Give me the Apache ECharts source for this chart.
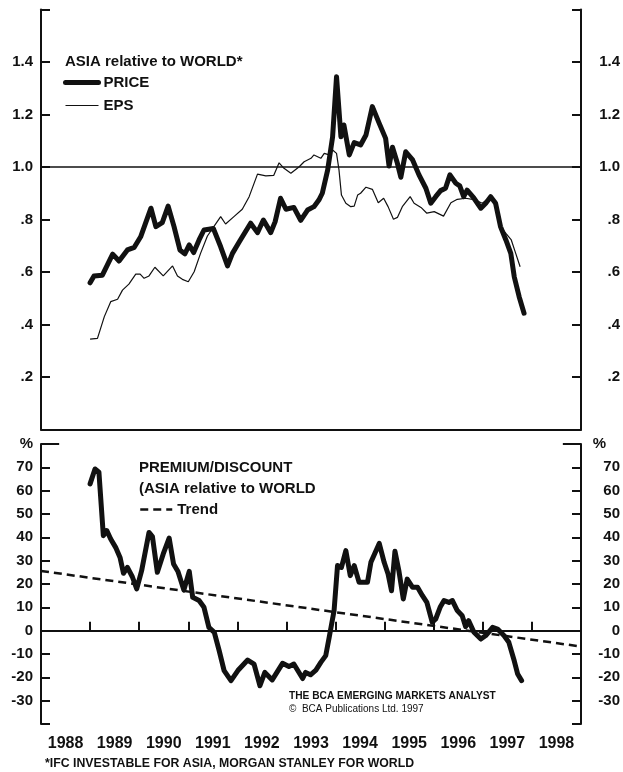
<!DOCTYPE html>
<html>
<head>
<meta charset="utf-8">
<script src="https://cdn.jsdelivr.net/npm/echarts@6/dist/echarts.min.js"></script>
<style>
html,body{margin:0;padding:0;background:#fff;}
#chart{width:623px;height:772px;}
</style>
</head>
<body>
<div id="chart"></div>
<script>
// ---------------- DATA ----------------
const yearLabels = ['1988','1989','1990','1991','1992','1993','1994','1995','1996','1997','1998'];

const topTickValues = [0.2, 0.4, 0.6, 0.8, 1.0, 1.2, 1.4];
const topTickLabels = ['.2', '.4', '.6', '.8', '1.0', '1.2', '1.4'];

const priceDates = [1989.00,1989.08,1989.25,1989.46,1989.59,1989.76,1989.90,1990.03,1990.13,1990.24,1990.34,1990.47,1990.59,1990.71,1990.83,1990.93,1991.02,1991.11,1991.22,1991.32,1991.42,1991.51,1991.66,1991.80,1991.90,1992.04,1992.27,1992.41,1992.53,1992.68,1992.77,1992.88,1992.99,1993.15,1993.29,1993.43,1993.56,1993.66,1993.73,1993.84,1993.94,1994.02,1994.11,1994.17,1994.28,1994.38,1994.51,1994.62,1994.75,1994.89,1995.02,1995.09,1995.16,1995.26,1995.33,1995.43,1995.57,1995.70,1995.84,1995.94,1996.04,1996.14,1996.24,1996.33,1996.45,1996.53,1996.61,1996.68,1996.82,1996.96,1997.06,1997.16,1997.26,1997.36,1997.47,1997.57,1997.64,1997.74,1997.84];
const priceValues = [0.559,0.585,0.588,0.668,0.642,0.684,0.694,0.734,0.786,0.843,0.773,0.788,0.851,0.773,0.684,0.669,0.703,0.674,0.722,0.760,0.763,0.766,0.696,0.623,0.671,0.715,0.786,0.750,0.798,0.750,0.792,0.881,0.839,0.846,0.797,0.836,0.849,0.874,0.900,0.989,1.115,1.344,1.115,1.160,1.046,1.093,1.084,1.122,1.230,1.166,1.109,1.004,1.075,1.014,0.961,1.058,1.027,0.970,0.919,0.862,0.887,0.910,0.919,0.970,0.938,0.928,0.887,0.912,0.881,0.843,0.862,0.887,0.862,0.773,0.722,0.671,0.582,0.506,0.443];

const epsDates = [1989.00,1989.15,1989.29,1989.42,1989.56,1989.66,1989.79,1989.93,1990.02,1990.10,1990.20,1990.32,1990.49,1990.68,1990.78,1990.88,1991.00,1991.12,1991.25,1991.39,1991.51,1991.66,1991.76,1991.93,1992.10,1992.24,1992.41,1992.58,1992.74,1992.85,1992.95,1993.09,1993.26,1993.36,1993.50,1993.56,1993.70,1993.77,1993.87,1993.94,1994.02,1994.07,1994.12,1994.21,1994.31,1994.38,1994.45,1994.51,1994.62,1994.75,1994.87,1994.98,1995.07,1995.18,1995.26,1995.36,1995.52,1995.60,1995.74,1995.86,1996.01,1996.20,1996.35,1996.48,1996.65,1996.82,1996.99,1997.16,1997.26,1997.36,1997.47,1997.58,1997.67,1997.76];
const epsValues = [0.344,0.347,0.430,0.487,0.496,0.531,0.554,0.592,0.592,0.576,0.585,0.618,0.585,0.623,0.585,0.572,0.563,0.601,0.671,0.737,0.770,0.811,0.783,0.811,0.839,0.887,0.973,0.966,0.968,1.016,0.995,0.976,1.001,1.020,1.033,1.046,1.033,1.052,1.046,1.065,1.052,0.989,0.893,0.862,0.849,0.851,0.893,0.900,0.923,0.915,0.864,0.881,0.849,0.801,0.808,0.849,0.887,0.862,0.846,0.824,0.830,0.813,0.864,0.877,0.881,0.876,0.862,0.887,0.849,0.773,0.747,0.722,0.671,0.620];

const premDates = [1989.00,1989.10,1989.18,1989.27,1989.34,1989.42,1989.52,1989.61,1989.68,1989.76,1989.86,1989.95,1990.05,1990.20,1990.27,1990.37,1990.49,1990.61,1990.70,1990.79,1990.91,1991.02,1991.09,1991.22,1991.32,1991.42,1991.53,1991.63,1991.73,1991.87,1992.01,1992.21,1992.34,1992.46,1992.56,1992.71,1992.92,1993.05,1993.15,1993.33,1993.39,1993.49,1993.60,1993.70,1993.80,1993.87,1993.97,1994.04,1994.12,1994.21,1994.30,1994.38,1994.48,1994.65,1994.72,1994.89,1994.99,1995.07,1995.14,1995.21,1995.29,1995.38,1995.46,1995.57,1995.67,1995.77,1995.86,1995.90,1995.97,1996.04,1996.13,1996.21,1996.31,1996.38,1996.48,1996.58,1996.65,1996.71,1996.82,1996.96,1997.06,1997.20,1997.30,1997.43,1997.53,1997.64,1997.71,1997.79];
const premValues = [62.9,69.3,67.9,40.7,42.9,39.3,35.7,31.4,24.6,27.1,23.1,17.9,25.7,42.1,40.3,25.0,32.9,39.7,28.6,25.4,17.4,25.4,14.3,12.9,10.0,1.4,-0.7,-8.6,-17.1,-21.4,-17.1,-12.6,-14.3,-23.6,-17.9,-21.1,-14.0,-15.4,-14.3,-20.5,-17.9,-18.9,-16.9,-13.6,-10.7,-2.9,8.6,27.9,27.1,34.3,23.6,27.9,20.7,20.7,29.3,37.4,29.3,24.3,17.1,34.0,25.7,13.6,22.1,18.6,18.6,15.0,12.1,11.4,3.6,5.0,10.0,12.9,12.1,12.9,8.6,6.4,1.7,4.3,-0.7,-3.6,-2.1,1.4,0.7,-2.1,-5.0,-12.9,-18.6,-21.4];

const trendDates = [1988.0, 1999.0];
const trendValues = [25.6, -6.8];

// ---------------- HELPERS ----------------
const FONT = "'Liberation Sans', Arial, Helvetica, sans-serif";
const INK = '#111';
const pairs = (xs, ys) => xs.map((x, i) => [x, ys[i]]);

function topLabel(v) {
  for (let i = 0; i < topTickValues.length; i++) {
    if (Math.abs(topTickValues[i] - v) < 1e-6) return topTickLabels[i];
  }
  return '';
}
function bottomLabelLeft(v) {
  if (v === 80) return '%';
  if (v <= -40) return '';
  return String(v);
}
function bottomLabelRight(v) {
  if (v === 80) return '{p|%}';
  if (v <= -40) return '';
  return String(v);
}

const axisLineStyle = { color: INK, width: 2 };
const labelStyle = { color: INK, fontFamily: FONT, fontWeight: 'bold', fontSize: 15 };

function yAx(grid, pos, min, max, interval, formatter, extraLabel) {
  return {
    gridIndex: grid, type: 'value', position: pos, min: min, max: max, interval: interval,
    axisLine: { show: true, lineStyle: axisLineStyle },
    axisTick: { show: true, inside: true, length: 9, lineStyle: { color: INK, width: 2 } },
    axisLabel: Object.assign({ formatter: formatter, margin: pos === 'left' ? 8 : 39, align: 'right',
      showMinLabel: true, showMaxLabel: true }, labelStyle, extraLabel || {}),
    splitLine: { show: false }
  };
}

const stubLen = 0.37;
const stub = (y) => [
  [{ coord: [1988, y] }, { coord: [1988 + stubLen, y] }],
  [{ coord: [1999 - stubLen, y] }, { coord: [1999, y] }]
];

const hiddenSymbol = { opacity: 0 };

const option = {
  animation: false,
  backgroundColor: '#fff',
  grid: [
    { left: 41, right: 42, top: 9.5, height: 420 },
    { left: 41, right: 42, top: 444, height: 280 }
  ],
  xAxis: [
    { gridIndex: 0, type: 'value', min: 1988, max: 1999, interval: 1, position: 'top',
      axisLine: { show: true, lineStyle: axisLineStyle }, axisTick: { show: false },
      axisLabel: { show: false }, splitLine: { show: false } },
    { gridIndex: 1, type: 'value', min: 1988, max: 1999, interval: 1, position: 'bottom',
      axisLine: { show: true, lineStyle: axisLineStyle },
      axisTick: { show: true, inside: true, length: 9, lineStyle: { color: INK, width: 2 } },
      axisLabel: { show: false }, splitLine: { show: false } },
    { gridIndex: 1, type: 'category', data: yearLabels, boundaryGap: true, position: 'bottom',
      axisLine: { show: false }, axisTick: { show: false }, splitLine: { show: false },
      axisLabel: { margin: 12, color: INK, fontFamily: FONT, fontWeight: 'bold', fontSize: 16, interval: 0 } }
  ],
  yAxis: [
    yAx(0, 'left', 0, 1.6, 0.2, topLabel),
    yAx(0, 'right', 0, 1.6, 0.2, topLabel),
    yAx(1, 'left', -40, 80, 10, bottomLabelLeft),
    yAx(1, 'right', -40, 80, 10, bottomLabelRight, { rich: { p: { fontFamily: FONT, fontWeight: 'bold', fontSize: 15, color: INK, padding: [0, 14, 0, 0] } } })
  ],
  legend: [
    { left: 63, top: 75, padding: 0, orient: 'vertical', itemWidth: 33, itemHeight: 14, itemGap: 8, selectedMode: false,
      textStyle: { color: INK, fontFamily: FONT, fontWeight: 'bold', fontSize: 15 },
      data: [
        { name: 'PRICE', lineStyle: { width: 5, color: INK }, itemStyle: hiddenSymbol },
        { name: 'EPS', lineStyle: { width: 1.2, color: INK }, itemStyle: hiddenSymbol }
      ] },
    { left: 139, top: 502, padding: 0, orient: 'vertical', itemWidth: 32, itemHeight: 14, selectedMode: false,
      textStyle: { color: INK, fontFamily: FONT, fontWeight: 'bold', fontSize: 15 },
      data: [ { name: 'Trend', lineStyle: { width: 2.5, color: INK, type: [8, 5] }, itemStyle: hiddenSymbol } ] }
  ],
  graphic: [
    { type: 'text', left: 65, top: 54, style: { text: 'ASIA relative to WORLD*', font: 'bold 15px ' + FONT, fill: INK } },
    { type: 'text', left: 139, top: 460, style: { text: 'PREMIUM/DISCOUNT', font: 'bold 15px ' + FONT, fill: INK } },
    { type: 'text', left: 139, top: 481, style: { text: '(ASIA relative to WORLD', font: 'bold 15px ' + FONT, fill: INK } },
    { type: 'text', left: 289, top: 691, style: { text: 'THE BCA EMERGING MARKETS ANALYST', font: 'bold 10.2px ' + FONT, fill: INK } },
    { type: 'text', left: 289, top: 704, style: { text: '\u00A9  BCA Publications Ltd. 1997', font: '10px ' + FONT, fill: INK } },
    { type: 'text', left: 45, top: 758, style: { text: '*IFC INVESTABLE FOR ASIA, MORGAN STANLEY FOR WORLD', font: 'bold 12.3px ' + FONT, fill: INK } }
  ],
  series: [
    { name: 'EPS', type: 'line', xAxisIndex: 0, yAxisIndex: 0, data: pairs(epsDates, epsValues),
      symbol: 'none', itemStyle: { color: INK }, lineStyle: { color: INK, width: 1.2 }, z: 3 },
    { name: 'PRICE', type: 'line', xAxisIndex: 0, yAxisIndex: 0, data: pairs(priceDates, priceValues),
      symbol: 'none', itemStyle: { color: INK }, lineStyle: { color: INK, width: 5, join: 'round', cap: 'round' }, z: 4,
      markLine: { silent: true, symbol: 'none', label: { show: false },
        data: [ { yAxis: 1.0, lineStyle: { color: INK, width: 1.5, type: 'solid' } } ]
          .concat(stub(0).map(d => { d[0].lineStyle = { color: INK, width: 2, type: 'solid' }; return d; })) } },
    { name: 'Trend', type: 'line', xAxisIndex: 1, yAxisIndex: 2, data: pairs(trendDates, trendValues),
      symbol: 'none', itemStyle: { color: INK }, lineStyle: { color: INK, width: 2.5, type: [8, 5] }, z: 3 },
    { name: 'PREMIUM', type: 'line', xAxisIndex: 1, yAxisIndex: 2, data: pairs(premDates, premValues),
      symbol: 'none', itemStyle: { color: INK }, lineStyle: { color: INK, width: 5, join: 'round', cap: 'round' }, z: 4,
      markLine: { silent: true, symbol: 'none', label: { show: false },
        data: [ { yAxis: 0, lineStyle: { color: INK, width: 1.5, type: 'solid' } } ]
          .concat(stub(80).map(d => { d[0].lineStyle = { color: INK, width: 2, type: 'solid' }; return d; })) } }
  ]
};

const chart = echarts.init(document.getElementById('chart'), null, { renderer: 'canvas' });
chart.setOption(option);
</script>
</body>
</html>
